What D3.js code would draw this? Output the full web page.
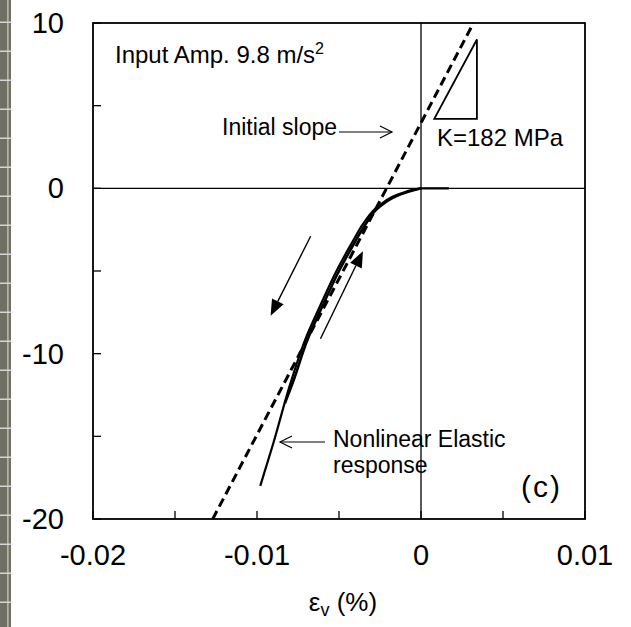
<!DOCTYPE html>
<html>
<head>
<meta charset="utf-8">
<script src="https://cdn.jsdelivr.net/npm/d3@7"></script>
<style>
  body { margin: 0; background: #fff; }
  svg { display: block; font-family: Arial, "Liberation Sans", sans-serif; }
</style>
</head>
<body>
<div class="container"></div>
<script>
// axis ticks
const xTicks = [-0.02, -0.01, 0, 0.01];
const xMinor = [-0.015, -0.005, 0.005];
const yTicks = [10, 0, -10, -20];
const yMinor = [5, -5, -15];

// measured response (two branches, nearly on top of each other)
const unloadX = [0.0017, 0, -0.0012, -0.0025, -0.0035, -0.0041, -0.0051, -0.0061, -0.0070, -0.0079, -0.0090, -0.0098];
const unloadY = [0, 0, -0.3, -1.0, -2.1, -3.1, -4.9, -7.0, -9.0, -11.6, -15.4, -18.0];
const reloadX = [0, -0.0012, -0.0025, -0.0034, -0.0040, -0.0050, -0.0060, -0.0069, -0.0078, -0.0083];
const reloadY = [0, -0.35, -1.1, -2.2, -3.2, -5.0, -7.1, -9.1, -11.7, -13.0];

// initial slope (dashed) and slope triangle
const slopeX = [-0.0127, 0.0032];
const slopeY = [-20, 10];
const triX = [0.00341, 0.00081, 0.00341];
const triY = [9.0, 4.2, 4.2];

// direction arrows [x0, y0, x1, y1]
const dirArrows = [
  [-0.00673, -2.9, -0.00917, -7.7],
  [-0.00613, -9.1, -0.00354, -3.8]
];

const margin = { top: 23, right: 46, bottom: 108, left: 93 };
const W = 631, H = 627;
const width = W - margin.left - margin.right;
const height = H - margin.top - margin.bottom;

const svg = d3.select(".container").append("svg")
  .attr("width", W).attr("height", H);

// decorative strip at the left edge
const strip = svg.append("g");
strip.append("rect").attr("x", 0).attr("y", 0).attr("width", 11).attr("height", H).attr("fill", "#6f6f62");
strip.append("rect").attr("x", 7.3).attr("y", 0).attr("width", 1.2).attr("height", H).attr("fill", "#cfcfcf");
strip.selectAll(".sep").data(d3.range(21.5, H, 29)).enter().append("rect")
  .attr("x", 0).attr("y", d => d).attr("width", 11).attr("height", 1.5).attr("fill", "#d6d6d6");

const g = svg.append("g").attr("transform", `translate(${margin.left},${margin.top})`);

const x = d3.scaleLinear().domain([-0.02, 0.01]).range([0, width]);
const y = d3.scaleLinear().domain([-20, 10]).range([height, 0]);

// zero lines
g.append("line").attr("x1", 0).attr("x2", width).attr("y1", y(0)).attr("y2", y(0))
  .attr("stroke", "#000").attr("stroke-width", 1.3);
g.append("line").attr("x1", x(0)).attr("x2", x(0)).attr("y1", 0).attr("y2", height)
  .attr("stroke", "#000").attr("stroke-width", 1.3);

// frame
g.append("rect").attr("width", width).attr("height", height)
  .attr("fill", "none").attr("stroke", "#000").attr("stroke-width", 1.8);

// ticks (inside)
const tickLen = 8;
g.selectAll(".xt").data(xTicks.concat(xMinor)).enter().append("line")
  .attr("x1", d => x(d)).attr("x2", d => x(d))
  .attr("y1", height).attr("y2", height - tickLen)
  .attr("stroke", "#000").attr("stroke-width", 1.3);
g.selectAll(".yt").data(yTicks.concat(yMinor)).enter().append("line")
  .attr("x1", 0).attr("x2", tickLen)
  .attr("y1", d => y(d)).attr("y2", d => y(d))
  .attr("stroke", "#000").attr("stroke-width", 1.3);

g.selectAll(".xl").data(xTicks).enter().append("text")
  .attr("x", d => x(d)).attr("y", height + 46)
  .attr("text-anchor", "middle").attr("font-size", 29)
  .text(d => String(d));
g.selectAll(".yl").data(yTicks).enter().append("text")
  .attr("x", -29).attr("y", d => y(d) + 10)
  .attr("text-anchor", "end").attr("font-size", 29)
  .text(d => String(d));

// axis title
const xt = g.append("text").attr("x", 250).attr("y", height + 92)
  .attr("text-anchor", "middle").attr("font-size", 26);
xt.append("tspan").text("ε");
xt.append("tspan").attr("font-size", 18).attr("dy", 5).text("v");
xt.append("tspan").attr("dy", -5).text(" (%)");

const line = d3.line().x(d => x(d[0])).y(d => y(d[1]));

// initial slope, dashed
g.append("path").datum(d3.zip(slopeX, slopeY)).attr("d", line)
  .attr("fill", "none").attr("stroke", "#000").attr("stroke-width", 3)
  .attr("stroke-dasharray", "9,5");

// response curve
g.append("path").datum(d3.zip(unloadX, unloadY)).attr("d", line.curve(d3.curveMonotoneY))
  .attr("fill", "none").attr("stroke", "#000").attr("stroke-width", 2.2);
g.append("path").datum(d3.zip(reloadX, reloadY)).attr("d", line.curve(d3.curveMonotoneY))
  .attr("fill", "none").attr("stroke", "#000").attr("stroke-width", 2.6);
line.curve(d3.curveLinear);

// slope triangle
g.append("path").datum(d3.zip(triX, triY)).attr("d", d => line(d) + "Z")
  .attr("fill", "none").attr("stroke", "#000").attr("stroke-width", 1.8);

// direction arrows with filled heads
dirArrows.forEach(a => {
  const x0 = x(a[0]), y0 = y(a[1]), x1 = x(a[2]), y1 = y(a[3]);
  const ang = Math.atan2(y1 - y0, x1 - x0);
  const L = 16, w = 6.5;
  const bx = x1 - L * Math.cos(ang), by = y1 - L * Math.sin(ang);
  g.append("line").attr("x1", x0).attr("y1", y0).attr("x2", bx).attr("y2", by)
    .attr("stroke", "#000").attr("stroke-width", 1.4);
  g.append("path")
    .attr("d", `M${x1},${y1}L${bx - w * Math.sin(ang)},${by + w * Math.cos(ang)}L${bx + w * Math.sin(ang)},${by - w * Math.cos(ang)}Z`)
    .attr("fill", "#000");
});

// annotations
function openArrow(x0, y0, x1, y1) {
  g.append("line").attr("x1", x0).attr("y1", y0).attr("x2", x1).attr("y2", y1)
    .attr("stroke", "#000").attr("stroke-width", 1.2);
  const ang = Math.atan2(y1 - y0, x1 - x0), L = 12, w = 6;
  const bx = x1 - L * Math.cos(ang), by = y1 - L * Math.sin(ang);
  g.append("path")
    .attr("d", `M${bx - w * Math.sin(ang)},${by + w * Math.cos(ang)}L${x1},${y1}L${bx + w * Math.sin(ang)},${by - w * Math.cos(ang)}`)
    .attr("fill", "none").attr("stroke", "#000").attr("stroke-width", 1.2);
}

const amp = g.append("text").attr("x", 22).attr("y", 40).attr("font-size", 24);
amp.append("tspan").text("Input Amp. 9.8 m/s");
amp.append("tspan").attr("font-size", 16).attr("dy", -9).text("2");

g.append("text").attr("x", 129).attr("y", 112).attr("font-size", 23).text("Initial slope");
openArrow(246, 109, 299, 109);

g.append("text").attr("x", 344).attr("y", 123).attr("font-size", 24).text("K=182 MPa");

g.append("text").attr("x", 240).attr("y", 424).attr("font-size", 23).text("Nonlinear Elastic");
g.append("text").attr("x", 240).attr("y", 450).attr("font-size", 23).text("response");
openArrow(232, 419, 187, 419);

g.append("text").attr("x", 428).attr("y", 474).attr("font-size", 30)
  .attr("letter-spacing", 2).text("(c)");
</script>
</body>
</html>
